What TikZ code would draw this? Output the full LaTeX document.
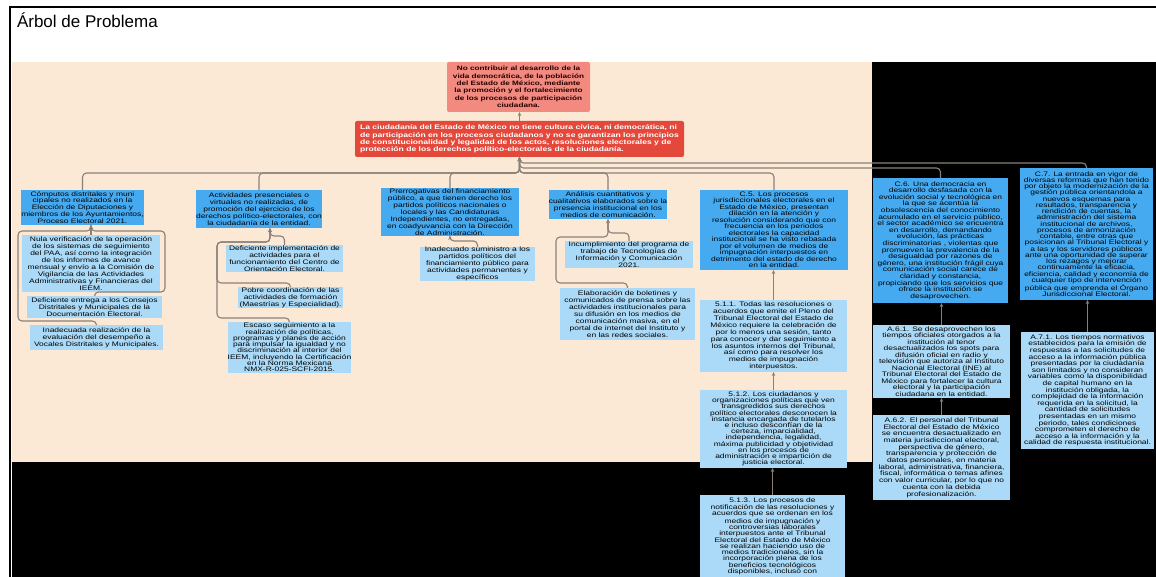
\documentclass[tikz,border=0pt]{standalone}
\usepackage{fontspec}
\setmainfont{Liberation Sans}[FakeStretch=1.3]
\newfontfamily\titlefont{Liberation Sans}
\usetikzlibrary{arrows.meta}
\definecolor{bgbeige}{HTML}{FBE9D6}
\definecolor{rootA}{HTML}{F28A80}
\definecolor{rootB}{HTML}{E3483A}
\definecolor{boxblue}{HTML}{46AAF1}
\definecolor{boxlight}{HTML}{AADAF7}
\definecolor{linegray}{HTML}{8A8079}
\begin{document}
\begin{tikzpicture}[x=1pt,y=-1pt,
  every node/.style={inner sep=0pt, outer sep=0pt, align=center},
  txt/.style={font=\fontsize{6.5}{6.9}\selectfont},
  lead/.style={font=\fontsize{6.5}{#1}\selectfont},
  lvone/.style={txt, fill=boxblue},
  lvtwo/.style={txt, fill=boxlight},
  rootone/.style={fill=rootA, rounded corners=2pt, text=black!85!red, font=\bfseries\fontsize{6.3}{7.4}\selectfont},
  roottwo/.style={fill=rootB, rounded corners=2pt, text=white, align=left, font=\bfseries\fontsize{6.6}{7.3}\selectfont},
  conn/.style={draw=linegray, line width=1.1pt, rounded corners=4pt, -{Stealth[length=4pt,width=3.5pt]}}]
\useasboundingbox (0,0) rectangle (1156,577);
\fill[white] (0,0) rectangle (1156,577);
\fill[black] (12,62) rectangle (1156,577);
\fill[bgbeige] (12,62) rectangle (872,462);
\draw[black, line width=1.2pt] (10,577) -- (10,7) -- (1156,7);

\node[anchor=base west, font=\titlefont\fontsize{17}{20}\selectfont] (title) at (17,28) {Árbol de Problema};

% roots
\node[rootone, minimum width=143pt, minimum height=50pt] (r1) at (518.5,87) {No contribuir al desarrollo de la\\vida democrática, de la población\\del Estado de México, mediante\\la promoción y el fortalecimiento\\de los procesos de participación\\ciudadana.};
\node[roottwo, minimum width=329pt, minimum height=36pt] (r2) at (519.5,139) {La ciudadanía del Estado de México no tiene cultura cívica, ni democrática, ni\\de participación en los procesos ciudadanos y no se garantizan los principios\\de constitucionalidad y legalidad de los actos, resoluciones electorales y de\\protección de los derechos político-electorales de la ciudadanía.};

% level one
\node[lvone, minimum width=121pt, minimum height=35pt] (c1) at (82.5,207.5) {Cómputos distritales y muni\\cipales no realizados en la\\Elección de Diputaciones y\\miembros de los Ayuntamientos,\\Proceso Electoral 2021.};
\node[lvone, minimum width=118pt, minimum height=38pt] (c2) at (259,209) {Actividades presenciales o\\virtuales no realizadas, de\\promoción del ejercicio de los\\derechos político-electorales, con\\la ciudadanía de la entidad.};
\node[lvone, minimum width=138pt, minimum height=48pt] (c3) at (450,212) {Prerrogativas del financiamiento\\público, a que tienen derecho los\\partidos políticos nacionales o\\locales y las Candidaturas\\Independientes, no entregadas,\\en coadyuvancia con la Dirección\\de Administración.};
\node[lvone, minimum width=114pt, minimum height=29pt] (c4) at (608,204.5) {Análisis cuantitativos y\\cualitativos elaborados sobre la\\presencia institucional en los\\medios de comunicación.};
\node[lvone, lead=6.5, minimum width=148pt, minimum height=80pt] (c5) at (774,230) {C.5. Los procesos\\jurisdiccionales electorales en el\\Estado de México, presentan\\dilación en la atención y\\resolución considerando que con\\frecuencia en los periodos\\electorales la capacidad\\institucional se ha visto rebasada\\por el volumen de medios de\\impugnación interpuestos en\\detrimento del estado de derecho\\en la entidad.};
\node[lvone, lead=6.6, minimum width=135pt, minimum height=125pt] (c6) at (940.5,240.5) {C.6. Una democracia en\\desarrollo desfasada con la\\evolución social y tecnológica en\\la que se acentúa la\\obsolescencia del conocimiento\\acumulado en el servicio público,\\el sector académico se encuentra\\en desarrollo, demandando\\evolución, las prácticas\\discriminatorias , violentas que\\promueven la prevalencia de la\\desigualdad por razones de\\género, una institución frágil cuya\\comunicación social carece de\\claridad y constancia,\\propiciando que los servicios que\\ofrece la institución se\\desaprovechen.};
\node[lvone, lead=6.25, minimum width=133pt, minimum height=132pt] (c7) at (1086.5,234) {C.7. La entrada en vigor de\\diversas reformas que han tenido\\por objeto la modernización de la\\gestión pública orientandola a\\nuevos esquemas para\\resultados, transparencia y\\rendición de cuentas, la\\administración del sistema\\institucional de archivos,\\procesos de armonización\\contable, entre otras que\\posicionan al Tribunal Electoral y\\a las y los servidores públicos\\ante una oportunidad de superar\\los rezagos y mejorar\\continuamente la eficacia,\\eficiencia, calidad y economía de\\cualquier tipo de intervención\\pública que emprenda el Órgano\\Jurisdiccional Electoral.};

% level two
\node[lvtwo, minimum width=138pt, minimum height=57pt] (n11) at (91,263.5) {Nula verificación de la operación\\de los sistemas de seguimiento\\del PAA, así como la integración\\de los informes de avance\\mensual y envío a la Comisión de\\Vigilancia de las Actividades\\Administrativas y Financieras del\\IEEM.};
\node[lvtwo, minimum width=135pt, minimum height=22pt] (n12) at (94.5,307) {Deficiente entrega a los Consejos\\Distritales y Municipales de la\\Documentación Electoral.};
\node[lvtwo, minimum width=133pt, minimum height=25pt] (n13) at (96.5,337.5) {Inadecuada realización de la\\evaluación del desempeño a\\Vocales Distritales y Municipales.};
\node[lvtwo, minimum width=117pt, minimum height=27pt] (n21) at (284.5,258.5) {Deficiente implementación de\\actividades para el\\funcionamiento del Centro de\\Orientación Electoral.};
\node[lvtwo, minimum width=105pt, minimum height=21pt] (n22) at (290.5,297.5) {Pobre coordinación de las\\actividades de formación\\(Maestrías y Especialidad).};
\node[lvtwo, lead=6.3, minimum width=111pt, minimum height=51pt] (n23) at (289.5,347.5) {Escaso seguimiento a la\\realización de políticas,\\programas y planes de acción\\para impulsar la igualdad y no\\discriminación al interior del\\IEEM, incluyendo la Certificación\\en la Norma Mexicana\\NMX-R-025-SCFI-2015.};
\node[lvtwo, minimum width=115pt, minimum height=34pt] (n31) at (477.5,264) {Inadecuado suministro a los\\partidos políticos del\\financiamiento público para\\actividades permanentes y\\específicos};
\node[lvtwo, minimum width=128pt, minimum height=27pt] (n41) at (629,254.5) {Incumplimiento del programa de\\trabajo de Tecnologías de\\Información y Comunicación\\2021.};
\node[lvtwo, minimum width=135pt, minimum height=52pt] (n42) at (627.5,314) {Elaboración de boletines y\\comunicados de prensa sobre las\\actividades institucionales para\\su difusión en los medios de\\comunicación masiva, en el\\portal de internet del Instituto y\\en las redes sociales.};
\node[lvtwo, minimum width=147pt, minimum height=72pt] (n51) at (773.5,336) {5.1.1. Todas las resoluciones o\\acuerdos que emite el Pleno del\\Tribunal Electoral del Estado de\\México requiere la celebración de\\por lo menos una sesión, tanto\\para conocer y dar seguimiento a\\los asuntos internos del Tribunal,\\así como para resolver los\\medios de impugnación\\interpuestos.};
\node[lvtwo, lead=6.2, minimum width=147pt, minimum height=78pt] (n52) at (773.5,429) {5.1.2. Los ciudadanos y\\organizaciones políticas que ven\\transgredidos sus derechos\\político electorales desconocen la\\instancia encargada de tutelarlos\\e incluso desconfían de la\\certeza, imparcialidad,\\independencia, legalidad,\\máxima publicidad y objetividad\\en los procesos de\\administración e impartición de\\justicia electoral.};
\node[lvtwo, lead=6.1, minimum width=145pt, anchor=north, inner ysep=3pt] (n53) at (772.5,495) {5.1.3. Los procesos de\\notificación de las resoluciones y\\acuerdos que se ordenan en los\\medios de impugnación y\\controversias laborales\\interpuestos ante el Tribunal\\Electoral del Estado de México\\se realizan haciendo uso de\\medios tradicionales, sin la\\incorporación plena de los\\beneficios tecnológicos\\disponibles, incluso con\\\mbox{}\\\mbox{}};
\node[lvtwo, lead=6.5, minimum width=137pt, minimum height=73pt] (n61) at (941.5,361.5) {A.6.1. Se desaprovechen los\\tiempos oficiales otorgados a la\\institución al tenor\\desactualizados los spots para\\difusión oficial en radio y\\televisión que autoriza al Instituto\\Nacional Electoral (INE) al\\Tribunal Electoral del Estado de\\México para fortalecer la cultura\\electoral y la participación\\ciudadana en la entidad.};
\node[lvtwo, lead=6.7, minimum width=137pt, minimum height=85pt] (n62) at (941.5,457.5) {A.6.2. El personal del Tribunal\\Electoral del Estado de México\\se encuentra desactualizado en\\materia jurisdiccional electoral,\\perspectiva de género,\\transparencia y protección de\\datos personales, en materia\\laboral, administrativa, financiera,\\fiscal, informática o temas afines\\con valor curricular, por lo que no\\cuenta con la debida\\profesionalización.};
\node[lvtwo, lead=6.6, minimum width=133pt, minimum height=117pt] (n71) at (1087.5,390.5) {A.7.1. Los tiempos normativos\\establecidos para la emisión de\\respuestas a las solicitudes de\\acceso a la información pública\\presentadas por la ciudadanía\\son limitados y no consideran\\variables como la disponibilidad\\de capital humano en la\\institución obligada, la\\complejidad de la información\\requerida en la solicitud, la\\cantidad de solicitudes\\presentadas en un mismo\\periodo, tales condiciones\\comprometen el derecho de\\acceso a la información y la\\calidad de respuesta institucional.};

% connectors
\coordinate (busA) at (519.5,173);
\coordinate (busB) at (519.5,168);
\coordinate (busC) at (519.5,163);
\draw[conn] (r2.north) -- (r2.north |- r1.south);
\foreach \c in {c1,c2,c3,c4,c5} \draw[conn] (\c.north) |- (busA) -- (r2.south);
\draw[conn] (c6.north) |- (busB) -- (r2.south);
\draw[conn] (c7.north) |- (busC) -- (r2.south);

\coordinate (c1in) at (91,225);
\draw[conn] (n11.north) -- (c1in);
\draw[conn] (n12.north) -- ++(0,-4) -| (165,231) -| (c1in);
\draw[conn] (n13.north) -- ++(0,-4) -| (18,231) -| (c1in);

\coordinate (c2in) at (270,228);
\draw[conn] (n21.north) -- ++(0,-9) -| (c2in);
\draw[conn] (n22.north) -- ++(0,-4) -| (217,242) -| (c2in);
\draw[conn] (n23.north) -- ++(0,-4) -| (217,242) -| (c2in);

\draw[conn] (n31.north) -- ++(0,-6) -| (c3.south);
\draw[conn] (n41.north) -- ++(0,-8) -| (c4.south);
\draw[conn] (n42.north) -- ++(0,-5) -| (556,237) -| (c4.south);

\draw[conn] (n51.north) -- (n51.north |- c5.south);
\draw[conn] (n52.north) -- (n52.north |- n51.south);
\draw[conn] (n53.north) -- (n53.north |- n52.south);
\draw[conn] (n61.north) -- (n61.north |- c6.south);
\draw[conn] (n62.north) -- (n62.north |- n61.south);
\draw[conn] (n71.north) -- (n71.north |- c7.south);
\end{tikzpicture}
\end{document}
